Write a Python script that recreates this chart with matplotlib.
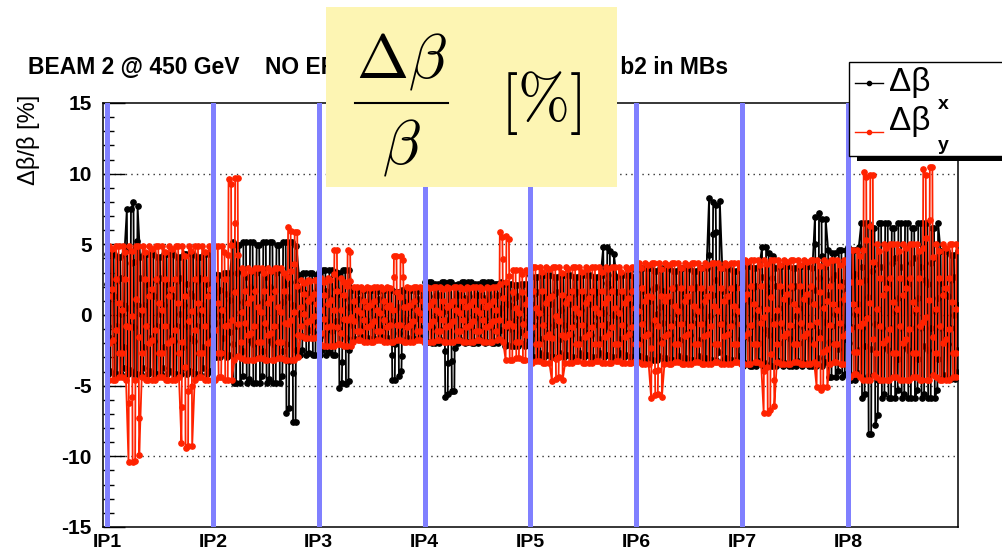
import numpy as np
import matplotlib.pyplot as plt
from matplotlib.patches import Rectangle
from matplotlib.lines import Line2D
from matplotlib.ticker import MultipleLocator

plt.rcParams['font.family'] = ['Liberation Sans', 'DejaVu Sans']
plt.rcParams['mathtext.fontset'] = 'cm'
plt.rcParams['axes.unicode_minus'] = False

# ring position in octants, IP1 = 0
ip_names = ['IP1', 'IP2', 'IP3', 'IP4', 'IP5', 'IP6', 'IP7', 'IP8']
ip_pos = [0, 1, 2, 3, 4, 5, 6, 7]
ring_end = 8.04

# beta-beat envelope per stretch of the ring [%]
seg_start = [0.0, 1.0, 1.18, 1.82, 2.0, 2.3, 3.0, 3.78, 4.0, 5.0, 6.0, 6.8, 7.0, 7.12, 7.85]
bx_hi = [4.3, 3.0, 5.2, 3.0, 3.2, 1.8, 2.3, 2.2, 2.8, 3.3, 3.5, 4.6, 4.8, 6.5, 4.5]
bx_lo = [-4.2, -3.0, -4.8, -2.8, -2.8, -1.7, -2.0, -2.2, -3.0, -3.2, -3.6, -4.4, -4.6, -5.9, -4.5]
by_hi = [4.9, 4.9, 3.3, 2.5, 2.6, 2.0, 2.0, 3.2, 3.4, 3.7, 3.9, 3.9, 4.6, 5.0, 5.0]
by_lo = [-4.6, -4.6, -3.2, -1.6, -2.2, -1.9, -1.9, -3.2, -3.4, -3.5, -3.5, -3.5, -4.4, -4.6, -4.6]

# local peaks
x_spike_pos = [0.20, 0.265, 1.73, 1.795, 2.23, 2.28, 2.72, 2.80, 3.21, 3.27,
               4.73, 4.80, 5.72, 5.79, 6.20, 6.26, 6.74, 6.81, 7.21, 7.27]
x_spike_val = [7.5, 8.0, -6.9, -7.6, -5.2, -4.9, -4.6, -4.3, -5.8, -5.4,
               4.8, 4.5, 8.3, 8.1, 4.8, 4.4, 7.2, 6.8, -8.4, -7.8]
y_spike_pos = [0.217, 0.283, 0.737, 0.803, 1.19, 1.256, 1.73, 1.795, 2.20, 2.27,
               2.72, 2.80, 3.73, 3.81, 4.21, 4.28, 5.20, 5.26, 6.22, 6.28,
               6.74, 6.81, 7.19, 7.25, 7.75, 7.82]
y_spike_val = [-10.4, -10.3, -9.4, -9.3, 9.6, 9.7, 6.2, 5.9, 4.6, 4.6,
               4.2, 4.2, 5.9, 5.6, -4.7, -4.6, -5.9, -5.8, -6.9, -6.7,
               -5.3, -5.1, 10.1, 9.9, 10.3, 10.5]

# element positions inside one cell (fraction of the cell length)
cell_frac = [0.0, 0.04, 0.08, 0.12, 0.5, 0.54, 0.58, 0.62]
# beat at those elements (fraction of the half-range), consecutive cells take the next row
cell_shapes_x = [[1.0, 0.5, -0.2, -1.0, -0.95, -0.4, 0.35, 1.0],
                 [1.0, 0.3, -0.45, -1.0, -1.0, -0.2, 0.55, 0.95],
                 [0.95, 0.6, 0.0, -1.0, -0.9, -0.55, 0.15, 1.0]]
cell_shapes_y = [[-1.0, -0.45, 0.25, 1.0, 0.95, 0.35, -0.4, -1.0],
                 [-1.0, -0.25, 0.5, 1.0, 1.0, 0.15, -0.6, -0.95],
                 [-0.95, -0.6, 0.05, 1.0, 0.9, 0.5, -0.2, -1.0]]
cells_per_octant = 16


def beat_curve(hi, lo, spike_pos, spike_val, shapes, offset):
    n_cells = int(np.ceil(ring_end * cells_per_octant)) + 1
    starts = np.array(seg_start)
    s, v = [], []
    for k in range(n_cells):
        u0 = (k + offset) / cells_per_octant
        i = np.searchsorted(starts, u0 + 0.5 / cells_per_octant, side='right') - 1
        top, bot = hi[i], lo[i]
        for p, val in zip(spike_pos, spike_val):
            if int(p * cells_per_octant - offset) == k:
                if val > 0:
                    top = val
                else:
                    bot = val
        mid, half = (top + bot) / 2, (top - bot) / 2
        shape = shapes[k % len(shapes)]
        for fr, f in zip(cell_frac, shape):
            s.append(u0 + fr / cells_per_octant)
            v.append(mid + half * f)
    return np.array(s), np.array(v)


sx, dbx = beat_curve(bx_hi, bx_lo, x_spike_pos, x_spike_val, cell_shapes_x, 0.0)
sy, dby = beat_curve(by_hi, by_lo, y_spike_pos, y_spike_val, cell_shapes_y, 0.25)

W, H = 1003, 550


def fx(px):
    return px / W


def fy(py):
    return 1 - py / H


fig = plt.figure(figsize=(W / 100, H / 100), dpi=100)
ax = fig.add_axes([fx(103), fy(527), (958 - 103) / W, (527 - 103) / H])

for g in [-10, -5, 0, 5, 10]:
    ax.axhline(g, color='#333333', lw=1, ls=(0, (1, 3)), zorder=1)

ax.plot(sx, dbx, color='black', lw=1.3, marker='o', ms=3.8, zorder=3)
ax.plot(sy, dby, color='#ff2200', lw=1.3, marker='o', ms=3.8, zorder=4)

for p in ip_pos:
    ax.axvline(p, color='#8080ff', lw=3.6, zorder=5)

ax.set_xlim(-0.038, 8.039)
ax.set_ylim(-15, 15)
ax.set_xticks(ip_pos)
ax.set_xticklabels(ip_names)
ax.set_yticks([-15, -10, -5, 0, 5, 10, 15])
ax.set_yticklabels(['-15', '-10', '-5', '0', '5', '10', '15'])
ax.yaxis.set_minor_locator(MultipleLocator(1))
ax.tick_params(axis='y', which='major', direction='in', length=16, width=1, labelsize=15, pad=8)
ax.tick_params(axis='y', which='minor', direction='in', length=8, width=1)
ax.tick_params(axis='x', length=0, labelsize=14, pad=5)
for lbl in ax.get_xticklabels() + ax.get_yticklabels():
    lbl.set_fontweight('bold')
for sp in ax.spines.values():
    sp.set_linewidth(1.1)

# title and axis label
fig.text(fx(28), fy(68), 'BEAM 2 @ 450 GeV    NO ERRORS in IR correction for b2 in MBs',
         size=16.5, weight='bold', va='center', zorder=1)
fig.text(fx(29), fy(95), 'Δβ/β [%]', rotation=90, ha='center', va='top', size=17)

# legend
fig.add_artist(Rectangle((fx(857), fy(161)), 0.2, 5 / H, transform=fig.transFigure,
                         facecolor='black', edgecolor='none', zorder=10))
fig.add_artist(Rectangle((fx(849), fy(156)), 0.2, (156 - 62) / H, transform=fig.transFigure,
                         facecolor='white', edgecolor='black', lw=1, zorder=11))
for col, yl, yb, ys, sub in [('black', 83, 91, 109, 'x'), ('#ff2200', 132, 130, 150, 'y')]:
    fig.add_artist(Line2D([fx(855), fx(869), fx(883)], [fy(yl)] * 3, color=col, lw=1,
                          marker='o', ms=3, markevery=[1], transform=fig.transFigure, zorder=12))
    fig.text(fx(889), fy(yb), 'Δβ', size=24, va='baseline', zorder=12)
    fig.text(fx(938), fy(ys), sub, size=14, weight='bold', va='baseline', zorder=12)

# yellow label box
fig.add_artist(Rectangle((fx(326), fy(187)), (617 - 326) / W, 180 / H, transform=fig.transFigure,
                         facecolor='#fdf5b3', edgecolor='none', zorder=20))
fig.text(fx(401), fy(77), r'$\Delta\beta$', size=45, ha='center', va='baseline', zorder=21)
fig.add_artist(Line2D([fx(355), fx(448)], [fy(103)] * 2, color='black', lw=1.5,
                      transform=fig.transFigure, zorder=21))
fig.text(fx(401), fy(163), r'$\beta$', size=45, ha='center', va='baseline', zorder=21)
fig.text(fx(541), fy(119), r'$[\%]$', size=45, ha='center', va='baseline', zorder=21)

fig.savefig('out.png', dpi=100)
